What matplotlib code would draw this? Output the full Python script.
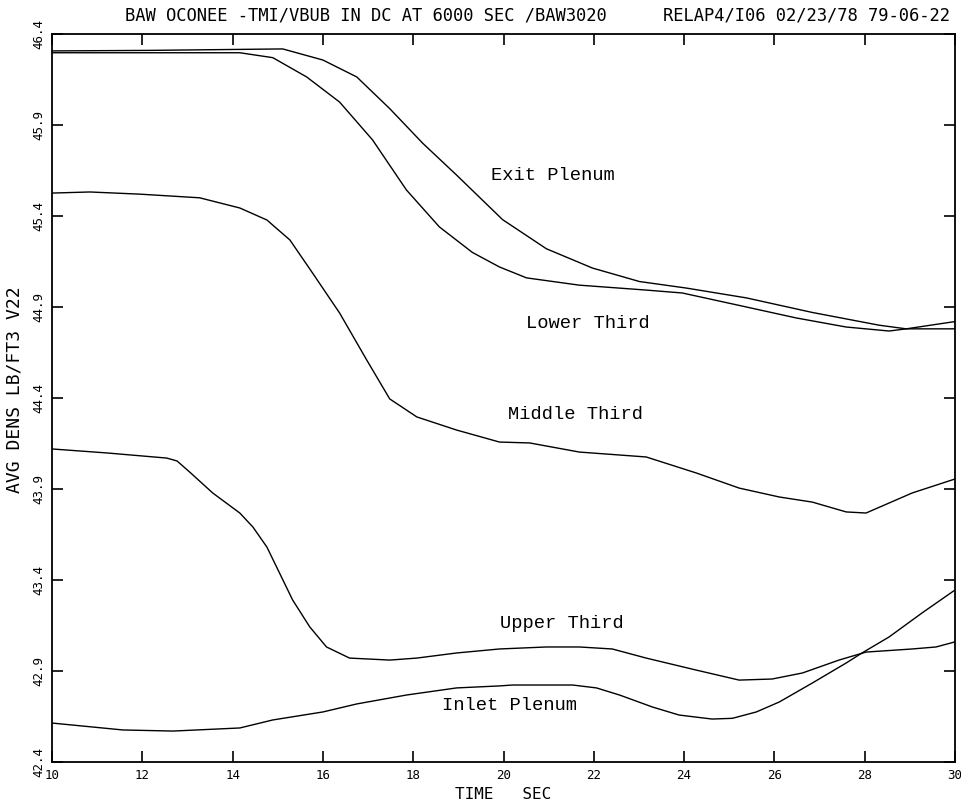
import numpy as np
from matplotlib import pyplot as plt

# time (sec) and average density (lb/ft3) for each region
exit_t = [10, 12.17, 15.11, 16.0, 16.75, 17.48, 18.21, 18.96, 19.98, 20.95, 21.97,
          23.01, 24.05, 25.38, 26.84, 28.32, 28.92, 30]
exit_d = [46.307, 46.31, 46.318, 46.257, 46.164, 45.99, 45.80, 45.625, 45.38, 45.22,
          45.114, 45.04, 45.004, 44.95, 44.87, 44.80, 44.78, 44.78]

lower_t = [10, 14.16, 14.89, 15.64, 16.37, 17.10, 17.85, 18.58, 19.31, 19.91, 20.51,
           21.68, 23.16, 23.96, 25.38, 26.48, 27.59, 28.54, 28.92, 30]
lower_d = [46.297, 46.297, 46.27, 46.164, 46.026, 45.818, 45.543, 45.34, 45.20, 45.12,
           45.06, 45.02, 44.993, 44.977, 44.90, 44.84, 44.79, 44.768, 44.78, 44.82]

middle_t = [10, 10.84, 11.95, 13.27, 14.16, 14.76, 15.27, 15.77, 16.37, 16.97, 17.48,
            18.08, 18.96, 19.91, 20.58, 21.68, 23.16, 24.27, 25.22, 26.11, 26.84,
            27.59, 28.03, 29.05, 30]
middle_d = [45.526, 45.532, 45.52, 45.50, 45.444, 45.378, 45.268, 45.087, 44.867,
            44.609, 44.395, 44.296, 44.224, 44.158, 44.153, 44.103, 44.076, 43.988,
            43.905, 43.856, 43.828, 43.774, 43.768, 43.878, 43.955]

upper_t = [10, 11.22, 12.54, 12.77, 13.05, 13.56, 14.16, 14.45, 14.76, 15.04, 15.33,
           15.71, 16.08, 16.59, 17.48, 18.08, 18.96, 19.91, 20.95, 21.68, 22.41,
           23.16, 24.27, 25.22, 25.95, 26.62, 27.43, 28.03, 29.05, 29.58, 30]
upper_d = [44.12, 44.098, 44.07, 44.054, 43.993, 43.878, 43.768, 43.691, 43.581,
           43.438, 43.29, 43.142, 43.032, 42.971, 42.96, 42.971, 42.999, 43.021,
           43.032, 43.032, 43.021, 42.971, 42.905, 42.85, 42.856, 42.889, 42.96,
           43.004, 43.021, 43.032, 43.06]

inlet_t = [10, 11.57, 12.68, 14.16, 14.89, 16.0, 16.75, 17.85, 18.96, 19.91, 20.2,
           21.53, 22.06, 22.57, 23.30, 23.89, 24.62, 25.07, 25.6, 26.11, 26.84,
           27.59, 27.94, 28.54, 29.27, 30]
inlet_d = [42.614, 42.576, 42.57, 42.587, 42.631, 42.675, 42.719, 42.768, 42.807,
           42.818, 42.823, 42.823, 42.807, 42.768, 42.702, 42.658, 42.636, 42.64,
           42.675, 42.73, 42.834, 42.944, 42.999, 43.087, 43.219, 43.345]

x_ticks = np.arange(10, 31, 2)
y_ticks = [42.4, 42.9, 43.4, 43.9, 44.4, 44.9, 45.4, 45.9, 46.4]

fig = plt.figure(figsize=(9.61, 8.05), dpi=100)
ax = fig.add_axes([52 / 961, 1 - 762 / 805, 903 / 961, 728 / 805])

for t, d in [(exit_t, exit_d), (lower_t, lower_d), (middle_t, middle_d),
             (upper_t, upper_d), (inlet_t, inlet_d)]:
    ax.plot(t, d, color="black", lw=1.0)

ax.set_xlim(10, 30)
ax.set_ylim(42.4, 46.4)
ax.set_xticks(x_ticks)
ax.set_xticklabels([str(v) for v in x_ticks], family="DejaVu Sans Mono")
ax.set_yticks(y_ticks)
ax.set_yticklabels(["%.1f" % v for v in y_ticks], rotation=90, va="center",
                   family="DejaVu Sans Mono")
ax.tick_params(direction="in", length=8, width=1.2, top=True, right=True,
               labelsize=9, pad=5)
for s in ax.spines.values():
    s.set_linewidth(1.3)

# curve labels
lab = dict(family="Liberation Mono", fontsize=13.5, ha="center", va="center")
ax.text(21.1, 45.625, "Exit Plenum", **lab)
ax.text(21.86, 44.81, "Lower Third", **lab)
ax.text(21.6, 44.31, "Middle Third", **lab)
ax.text(21.3, 43.16, "Upper Third", **lab)
ax.text(20.13, 42.71, "Inlet Plenum", **lab)

mono = dict(family="DejaVu Sans Mono", va="center")
fig.text(125 / 961, 1 - 15 / 805, "BAW OCONEE -TMI/VBUB IN DC AT 6000 SEC /BAW3020",
         fontsize=12.3, ha="left", **mono)
fig.text(950 / 961, 1 - 15 / 805, "RELAP4/I06 02/23/78 79-06-22",
         fontsize=12.3, ha="right", **mono)
fig.text(15 / 961, 1 - 390 / 805, "AVG DENS LB/FT3 V22", rotation=90,
         fontsize=13, ha="center", **mono)
fig.text(503 / 961, 1 - 794 / 805, "TIME   SEC", fontsize=11.5,
         ha="center", **mono)

fig.savefig("out.png", dpi=100)
